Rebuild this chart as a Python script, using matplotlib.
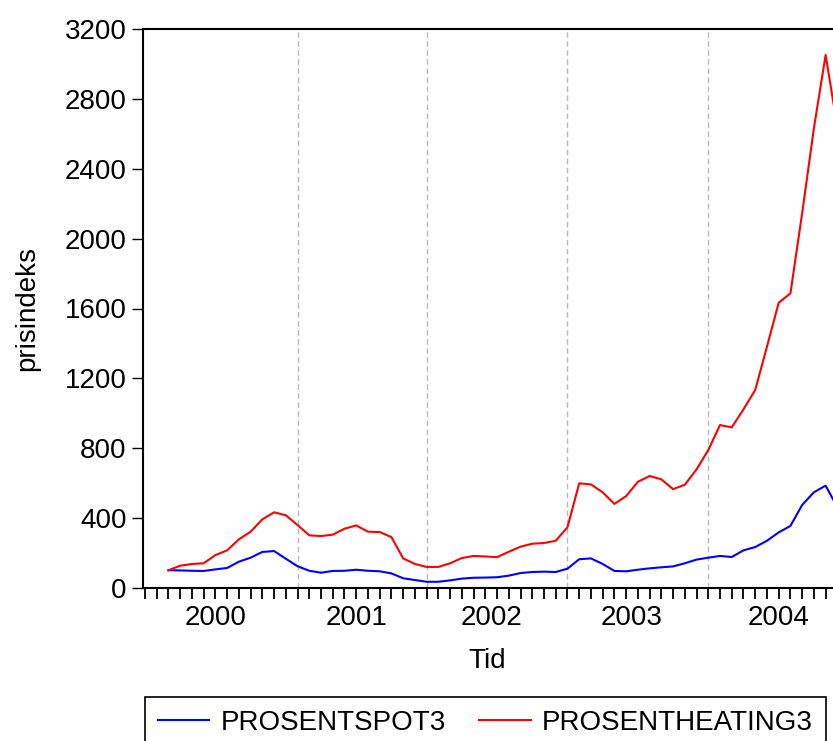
import matplotlib
matplotlib.use("Agg")
import matplotlib.pyplot as plt

plt.rcParams['font.family'] = ['Liberation Sans', 'DejaVu Sans']

# ---- data (monthly, month index 0 = 2000M01) ----
month_index = list(range(2, 60))
prosentspot3 = [100, 99, 97, 96, 105, 113, 149, 172, 205, 210, 166, 123, 97, 86, 96, 97,
                103, 97, 94, 82, 54, 44, 34, 34, 42, 52, 57, 58, 60, 69, 84, 90, 92, 90,
                109, 163, 168, 136, 96, 94, 103, 111, 117, 122, 140, 161, 172, 182, 176,
                214, 233, 269, 317, 354, 474, 547, 585, 461]
prosentheating3 = [100, 126, 136, 140, 187, 214, 277, 321, 392, 432, 415, 359, 300, 296,
                   304, 338, 357, 321, 319, 290, 168, 136, 119, 119, 140, 170, 182, 179,
                   175, 206, 235, 252, 256, 269, 346, 598, 592, 547, 480, 525, 607, 640,
                   621, 565, 590, 678, 789, 932, 919, 1022, 1133, 1381, 1633, 1687, 2146,
                   2633, 3053, 2640]
year_labels = ['2000', '2001', '2002', '2003', '2004']
y_ticks = [0, 400, 800, 1200, 1600, 2000, 2400, 2800, 3200]
series_names = ['PROSENTSPOT3', 'PROSENTHEATING3']

# ---- layout ----
W, H = 833, 741
fig = plt.figure(figsize=(W / 100, H / 100), dpi=100)
ax_left, ax_right_px, ax_top, ax_bottom = 143.3, 849.1, 29.3, 587.7
ax = fig.add_axes([ax_left / W, 1 - ax_bottom / H, (ax_right_px - ax_left) / W,
                   (ax_bottom - ax_top) / H])

l1, = ax.plot(month_index, prosentspot3, color='#0000FF', lw=1.5, label=series_names[0])
l2, = ax.plot(month_index, prosentheating3, color='#FF0000', lw=1.5, label=series_names[1])

ax.set_xlim(-0.145, 60)
ax.set_ylim(0, 3200)

# vertical dashed year separators
for gx in [13, 24, 36, 48]:
    ax.axvline(gx, color='#BBBBBB', lw=1.0, ls=(0, (4, 2.5)), zorder=0)

ax.set_yticks(y_ticks)
ax.set_yticklabels([str(v) for v in y_ticks])
ax.tick_params(axis='y', direction='out', length=7.7, width=1.0, pad=4.3, labelsize=20)

ax.xaxis.remove_overlapping_locs = False
ax.set_xticks(range(0, 60))
ax.set_xticklabels([])
ax.tick_params(axis='x', which='major', direction='out', length=8, width=1.3)
ax.set_xticks([6, 18, 29.5, 41.5, 54], minor=True)
ax.set_xticklabels(year_labels, minor=True)
ax.tick_params(axis='x', which='minor', length=0, pad=12.2, labelsize=20)

for s in ['left', 'top', 'bottom']:
    ax.spines[s].set_linewidth(1.5)
ax.spines['right'].set_visible(False)

ax.set_ylabel('prisindeks', fontsize=20)
ax.yaxis.set_label_coords((40 - ax_left) / (ax_right_px - ax_left), 0.5)
ax.set_xlabel('Tid', fontsize=20)
ax.xaxis.set_label_coords((487 - ax_left) / (ax_right_px - ax_left),
                          (ax_bottom - 648) / (ax_bottom - ax_top))

leg = fig.legend(handles=[l1, l2], labels=series_names, loc='upper left',
                 bbox_to_anchor=(145 / W, 1 - 697 / H), ncol=2, fontsize=20,
                 frameon=True, fancybox=False, framealpha=1, edgecolor='black',
                 borderpad=0.45, handlelength=1.84, handletextpad=0.42,
                 columnspacing=1.22, borderaxespad=0)
leg.get_frame().set_linewidth(1.2)

fig.savefig('out.png', dpi=100)
